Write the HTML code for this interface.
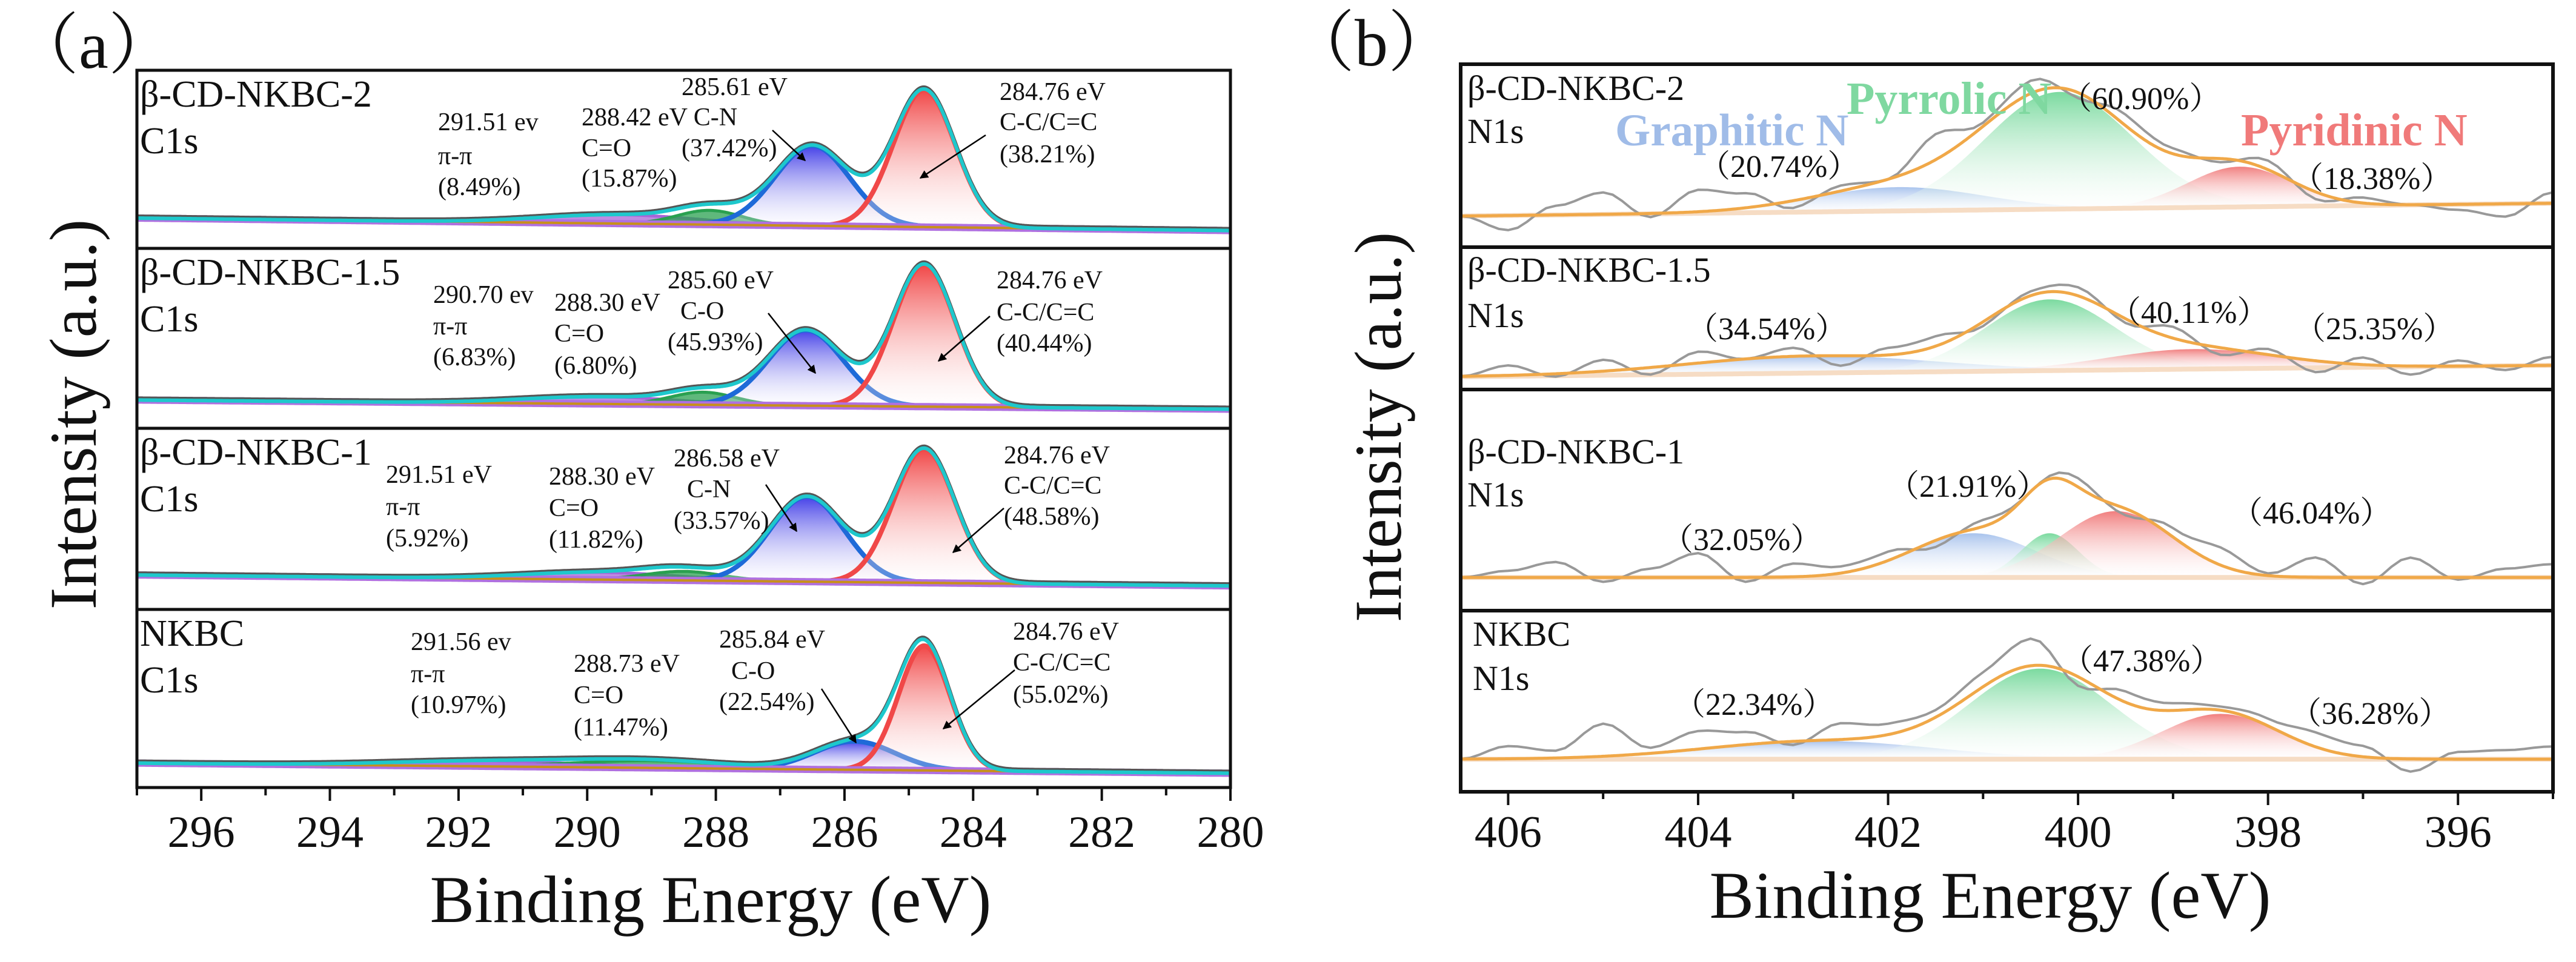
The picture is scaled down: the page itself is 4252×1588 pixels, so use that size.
<!DOCTYPE html>
<html><head><meta charset="utf-8"><style>
html,body{margin:0;padding:0;background:#fff;}
svg{display:block;}
text{font-family:"Liberation Serif","Noto Serif CJK SC",serif;fill:#111;}
</style></head><body>
<svg id="fig" width="4252" height="1588" viewBox="0 0 4252 1588" xmlns="http://www.w3.org/2000/svg">
<defs>
<marker id="arr" viewBox="0 0 10 10" refX="9" refY="5" markerWidth="14" markerHeight="14" markerUnits="userSpaceOnUse" orient="auto"><path d="M0,0 L10,5 L0,10 z" fill="#000"/></marker>
</defs>
<g id="layer"></g>
</svg>
<script>
// ---------- Panel (a) C1s data ----------
const aTicks = [296,294,292,290,288,286,284,282,280];
const aSampleNames = ["β-CD-NKBC-2","β-CD-NKBC-1.5","β-CD-NKBC-1","NKBC"];
// components: [C-C, C-O/C-N, C=O, pi-pi]
const aCenters = [[284.76,286.5,288.1,289.5],[284.76,286.6,288.2,289.8],[284.76,286.58,288.5,289.8],[284.76,285.84,289.0,291.5]];
const aHeights = [[0.77,0.45,0.08,0.05],[0.79,0.42,0.07,0.04],[0.74,0.47,0.05,0.04],[0.70,0.16,0.04,0.03]];
const aSigmas  = [[0.48,0.58,0.5,1.2],[0.48,0.58,0.5,1.2],[0.48,0.58,0.6,1.2],[0.40,0.62,1.2,1.5]];
const aBaseL = [0.17,0.157,0.19,0.137];
const aBaseR = [0.10,0.106,0.13,0.08];

// ---------- Panel (b) N1s data ----------
const bTicks = [406,404,402,400,398,396];
const bSampleNames = ["β-CD-NKBC-2","β-CD-NKBC-1.5","β-CD-NKBC-1","NKBC"];
// components: [Graphitic, Pyrrolic, Pyridinic]
const bCenters = [[401.9,400.2,398.3],[402.8,400.3,398.8],[401.1,400.3,399.6],[402.7,400.4,398.5]];
const bHeights = [[0.13,0.64,0.22],[0.12,0.50,0.14],[0.20,0.20,0.30],[0.10,0.50,0.25]];
const bSigmas  = [[0.9,0.78,0.55],[1.3,0.68,0.9],[0.65,0.3,0.6],[1.2,0.75,0.62]];
const bBaseL = [0.17,0.09,0.15,0.18];
const bBaseR = [0.24,0.17,0.15,0.18];
// raw residual noise, every 0.5 eV from 406.5 to 395.0
const bNoise = [
 [0.00,-0.08,0.05,0.12,-0.02,0.12,0.08,-0.04,0.03,0.00,0.14,0.02,0.07,-0.03,0.06,0.03,-0.02,0.05,-0.04,0.03,0.00,-0.03,-0.07,0.06],
 [0.00,0.07,-0.02,0.08,-0.05,0.08,0.00,0.06,-0.07,0.05,0.07,-0.03,0.03,0.06,-0.03,0.08,-0.05,0.04,-0.08,0.05,-0.06,0.04,-0.03,0.06],
 [0.00,0.03,0.07,-0.02,0.04,0.11,-0.02,0.06,0.03,0.04,-0.03,0.03,0.00,0.04,-0.03,0.04,0.08,0.01,0.09,-0.03,0.09,-0.01,0.04,0.06],
 [0.00,0.07,0.04,0.18,0.03,0.10,0.07,-0.02,0.09,0.06,0.04,0.08,0.15,-0.05,0.06,0.04,0.02,0.04,0.08,0.06,-0.07,0.04,0.05,0.07]
];

const NS="http://www.w3.org/2000/svg";
const layer=document.getElementById('layer');
const defs=document.querySelector('defs');
function mk(tag,attrs,parent){const e=document.createElementNS(NS,tag);for(const k in attrs)e.setAttribute(k,attrs[k]);(parent||layer).appendChild(e);return e;}
function gauss(x,c,h,s){return h*Math.exp(-0.5*((x-c)/s)**2);}
function txt(x,y,s,size,name,extra){const t=mk('text',Object.assign({x:x,y:y,'font-size':size},extra||{}));t.textContent=s;return t;}
let gid=0;
function grad(color){const id='g'+(gid++);const g=mk('linearGradient',{id:id,x1:0,y1:0,x2:0,y2:1},defs);mk('stop',{offset:'0','stop-color':color,'stop-opacity':0.95},g);mk('stop',{offset:'1','stop-color':'#ffffff','stop-opacity':0.2},g);return 'url(#'+id+')';}

// ---------- Panel (a) geometry ----------
const aL=226,aR=2031,aE0=297,aE1=280;
const aTops=[116,410,707,1006],aBots=[410,707,1006,1300];
function xA(e){return aL+(aE0-e)*(aR-aL)/(aE0-aE1);}
const aCols=['#f04848','#1e6ad8','#2aa050','#a864d8'];
const aFills=['#f03c3c','#3a36e6','#2aa050','#a864d8'];
for(let p=0;p<4;p++){
  const top=aTops[p],bot=aBots[p];
  const yf=f=>bot-f*(bot-top);
  const base=e=>aBaseL[p]+(aBaseR[p]-aBaseL[p])*(aE0-e)/(aE0-aE1);
  const g=mk('g',{});
  const es=[];for(let e=aE0;e>=aE1-1e-9;e-=0.02)es.push(e);
  for(let k=3;k>=0;k--){
    const c=aCenters[p][k],h=aHeights[p][k],s=aSigmas[p][k];
    let d='',fd='';
    es.forEach((e,i)=>{const v=base(e)+gauss(e,c,h,s);d+=(i?'L':'M')+xA(e).toFixed(1)+','+yf(v).toFixed(1);});
    fd=d;for(let i=es.length-1;i>=0;i--)fd+='L'+xA(es[i]).toFixed(1)+','+yf(base(es[i])).toFixed(1);
    const fp=mk('path',{d:fd+'Z',fill:k<2?grad(aFills[k]):aFills[k],'fill-opacity':k<2?1:0.75},g);
    
    const lp=mk('path',{d:d,fill:'none',stroke:aCols[k],'stroke-width':k<2?8:5},g);
    
  }
  let bd='';es.forEach((e,i)=>{bd+=(i?'L':'M')+xA(e).toFixed(1)+','+yf(base(e)).toFixed(1);});
  const b1=mk('path',{d:bd,fill:'none',stroke:'#b070e0','stroke-width':12},g);
  const b2=mk('path',{d:bd,fill:'none',stroke:'#c8901a','stroke-width':4},g);
  let ed='';es.forEach((e,i)=>{let v=base(e);for(let k=0;k<4;k++)v+=gauss(e,aCenters[p][k],aHeights[p][k],aSigmas[p][k]);ed+=(i?'L':'M')+xA(e).toFixed(1)+','+yf(v).toFixed(1);});
  const r=mk('path',{d:ed,fill:'none',stroke:'#555','stroke-width':6,transform:'translate(0,-3)'},g);
  const en=mk('path',{d:ed,fill:'none',stroke:'#1ec8cc','stroke-width':6},g);
  txt(231,top+60,aSampleNames[p],62,'sample-label');
  txt(231,top+137,'C1s',62,'c1s-label');
}
{const f=mk('rect',{x:aL,y:aTops[0],width:aR-aL,height:aBots[3]-aTops[0],fill:'none',stroke:'#111','stroke-width':5});
for(let i=1;i<4;i++){const l=mk('line',{x1:aL,x2:aR,y1:aTops[i],y2:aTops[i],stroke:'#111','stroke-width':5});}
for(let e=297;e>=280;e--){const x=xA(e);const major=e%2===0;const t=mk('line',{x1:x,x2:x,y1:1300,y2:1300+(major?22:13),stroke:'#111','stroke-width':4});}
aTicks.forEach(v=>txt(xA(v),1398,String(v),74,'x-tick-label-a',{'text-anchor':'middle'}));
txt(1173,1522,'Binding Energy (eV)',110,'x-axis-title-a',{'text-anchor':'middle'});
txt(0,0,'Intensity (a.u.)',110,'y-axis-title-a',{'text-anchor':'middle',transform:'translate(158,684) rotate(-90)'});
txt(20,112,'（a）',110,'panel-label-a');}

const aAnn=[
 [723,[215,271,322],["291.51 ev","π-π","(8.49%)"]],
 [960,[207,258,308],["288.42 eV C-N","C=O","(15.87%)"]],
 [1125,[258],["(37.42%)"]],[1125,[157],["285.61 eV"]],
 [1650,[165,215,268],["284.76 eV","C-C/C=C","(38.21%)"]],
 [715,[500,552,603],["290.70 ev","π-π","(6.83%)"]],
 [915,[513,564,617],["288.30 eV","C=O","(6.80%)"]],
 [1102,[476],["285.60 eV"]],[1123,[527],["C-O"]],[1102,[578],["(45.93%)"]],
 [1645,[476,529,580],["284.76 eV","C-C/C=C","(40.44%)"]],
 [637,[797,850,902],["291.51 eV","π-π","(5.92%)"]],
 [906,[800,852,904],["288.30 eV","C=O","(11.82%)"]],
 [1112,[770],["286.58 eV"]],[1134,[821],["C-N"]],[1112,[873],["(33.57%)"]],
 [1657,[765,815,866],["284.76 eV","C-C/C=C","(48.58%)"]],
 [678,[1073,1126,1177],["291.56 ev","π-π","(10.97%)"]],
 [947,[1109,1161,1214],["288.73 eV","C=O","(11.47%)"]],
 [1187,[1069],["285.84 eV"]],[1207,[1121],["C-O"]],[1187,[1172],["(22.54%)"]],
 [1672,[1056,1107,1160],["284.76 eV","C-C/C=C","(55.02%)"]]
];
aAnn.forEach(a=>a[2].forEach((s,i)=>txt(a[0],a[1][i],s,42,'peak-annotation')));
const arrows=[[1627,223,1519,294],[1275,215,1329,265],[1634,522,1549,596],[1268,517,1346,616],[1657,839,1573,912],[1264,800,1315,877],[1675,1106,1557,1203],[1356,1137,1413,1226]];
arrows.forEach(a=>{const l=mk('line',{x1:a[0],y1:a[1],x2:a[2],y2:a[3],stroke:'#000','stroke-width':2.5,'marker-end':'url(#arr)'});});

// ---------- Panel (b) geometry ----------
const bL=2411,bR=4214,bE0=406.5,bE1=395;
const bTops=[106,408,643,1008],bBots=[408,643,1008,1307];
function xB(e){return bL+(bE0-e)*(bR-bL)/(bE0-bE1);}
const bCols=['#a4c0ec','#74d89a','#f07878'];
for(let p=0;p<4;p++){
  const top=bTops[p],bot=bBots[p];
  const yf=f=>bot-f*(bot-top);
  const base=e=>bBaseL[p]+(bBaseR[p]-bBaseL[p])*(bE0-e)/(bE0-bE1);
  const g=mk('g',{});
  const es=[];for(let e=bE0;e>=bE1-1e-9;e-=0.02)es.push(e);
  for(let k=0;k<3;k++){
    const c=bCenters[p][k],h=bHeights[p][k],s=bSigmas[p][k];
    let d='';const pts=es.filter(e=>Math.abs(e-c)<3.2*s);
    pts.forEach((e,i)=>{d+=(i?'L':'M')+xB(e).toFixed(1)+','+yf(base(e)+gauss(e,c,h,s)).toFixed(1);});
    for(let i=pts.length-1;i>=0;i--)d+='L'+xB(pts[i]).toFixed(1)+','+yf(base(pts[i])).toFixed(1);
    const fp=mk('path',{d:d+'Z',fill:grad(bCols[k]),stroke:'none'},g);
    
  }
  let bd='';es.forEach((e,i)=>{bd+=(i?'L':'M')+xB(e).toFixed(1)+','+yf(base(e)).toFixed(1);});
  const bl=mk('path',{d:bd,fill:'none',stroke:'#f6dcc4','stroke-width':8},g);
  const env=e=>{let v=base(e);for(let k=0;k<3;k++)v+=gauss(e,bCenters[p][k],bHeights[p][k],bSigmas[p][k]);return v;};
  let rd='';const step=0.1;let n=0;
  for(let e=bE0;e>=bE1-1e-9;e-=step){const idx=(bE0-e)/0.5;const i0=Math.min(Math.floor(idx),bNoise[p].length-1),i1=Math.min(i0+1,bNoise[p].length-1);const t=idx-Math.floor(idx);const tt=(1-Math.cos(Math.PI*t))/2;const nz=bNoise[p][i0]*(1-tt)+bNoise[p][i1]*tt;rd+=(n++?'L':'M')+xB(e).toFixed(1)+','+yf(env(e)+nz).toFixed(1);}
  const rr=mk('path',{d:rd,fill:'none',stroke:'#999','stroke-width':4},g);
  let ed='';es.forEach((e,i)=>{ed+=(i?'L':'M')+xB(e).toFixed(1)+','+yf(env(e)).toFixed(1);});
  const en=mk('path',{d:ed,fill:'none',stroke:'#f0a848','stroke-width':5},g);
}
const bLab=[[165,236],[465,540],[765,836],[1066,1139]];
bLab.forEach((v,p)=>{txt(p===3?2431:2422,v[0],bSampleNames[p],58,'sample-label');txt(p===3?2431:2422,v[1],'N1s',58,'n1s-label');});
{const f=mk('rect',{x:bL,y:bTops[0],width:bR-bL,height:bBots[3]-bTops[0],fill:'none',stroke:'#111','stroke-width':6});
for(let i=1;i<4;i++){const l=mk('line',{x1:bL,x2:bR,y1:bTops[i],y2:bTops[i],stroke:'#111','stroke-width':6});}
for(let e=406;e>=395;e--){const x=xB(e);const major=e%2===0;const t=mk('line',{x1:x,x2:x,y1:1307,y2:1307+(major?22:12),stroke:'#111','stroke-width':4});}
bTicks.forEach(v=>txt(xB(v),1398,String(v),74,'x-tick-label-b',{'text-anchor':'middle'}));
txt(3285,1515,'Binding Energy (eV)',110,'x-axis-title-b',{'text-anchor':'middle'});
txt(0,0,'Intensity (a.u.)',110,'y-axis-title-b',{'text-anchor':'middle',transform:'translate(2312,705) rotate(-90)'});
txt(2126,108,'（b）',110,'panel-label-b');}
txt(2666,240,'Graphitic N',75,'legend-graphitic-n',{'font-weight':'bold',style:'fill:#a0bce8'});
txt(3048,188,'Pyrrolic N',76,'legend-pyrrolic-n',{'font-weight':'bold',style:'fill:#7fd8a0'});
txt(3699,240,'Pyridinic N',76,'legend-pyridinic-n',{'font-weight':'bold',style:'fill:#f07a7a'});
const bAnn=[[2804,292,'（20.74%）'],[3401,180,'（60.90%）'],[3783,312,'（18.38%）'],
 [2784,560,'（34.54%）'],[3482,533,'（40.11%）'],[3787,560,'（25.35%）'],
 [3116,820,'（21.91%）'],[2743,908,'（32.05%）'],[3683,864,'（46.04%）'],
 [3403,1108,'（47.38%）'],[2763,1180,'（22.34%）'],[3780,1195,'（36.28%）']];
bAnn.forEach(a=>txt(a[0],a[1],a[2],52,'percent-annotation'));
</script>
</body></html>
